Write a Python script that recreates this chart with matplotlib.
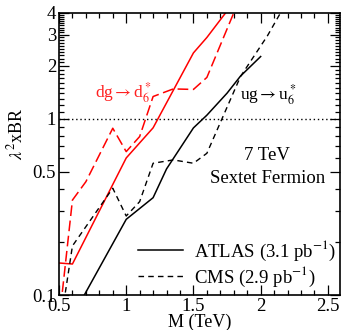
import numpy as np
import matplotlib
matplotlib.use("Agg")
import matplotlib.pyplot as plt
from matplotlib.ticker import FixedLocator, NullFormatter, MultipleLocator

plt.rcParams['font.family'] = ['Liberation Serif', 'DejaVu Serif']
plt.rcParams['mathtext.fontset'] = 'stix'

# ATLAS dg -> d6* (red solid)
atlas_d_m = [0.5, 0.6, 1.0, 1.2, 1.5, 1.6, 1.8, 2.0]
atlas_d_y = [0.152, 0.15, 0.60, 0.89, 2.37, 2.9, 4.6, 7.0]
# CMS dg -> d6* (red dashed)
cms_d_m = [0.5, 0.6, 0.7, 0.9, 1.0, 1.1, 1.2, 1.35, 1.5, 1.6, 1.8, 2.0]
cms_d_y = [0.07, 0.346, 0.44, 0.885, 0.652, 0.794, 1.34, 1.48, 1.47, 1.72, 4.0, 9.0]
# ATLAS ug -> u6* (black solid)
atlas_u_m = [0.5, 1.0, 1.2, 1.3, 1.5, 1.6, 1.75, 1.85, 2.0]
atlas_u_y = [0.055, 0.269, 0.357, 0.52, 0.889, 1.05, 1.4, 1.75, 2.26]
# CMS ug -> u6* (black dashed)
cms_u_m = [0.5, 0.6, 0.9, 1.0, 1.1, 1.2, 1.35, 1.5, 1.6, 1.85, 2.05, 2.2]
cms_u_y = [0.06, 0.19, 0.404, 0.281, 0.339, 0.56, 0.585, 0.56, 0.638, 1.74, 2.96, 4.7]

fig = plt.figure(figsize=(3.41, 3.30), dpi=100)
ax = fig.add_axes([0.173, 0.106, 0.824, 0.855])

ax.plot(atlas_d_m, atlas_d_y, color='#ff0000', lw=1.1)
ax.plot(cms_d_m, cms_d_y, color='#ff0000', lw=1.1, dashes=(7, 3))
ax.plot(atlas_u_m, atlas_u_y, color='black', lw=1.1, label='ATLAS (3.1 pb$^{-1}$)')
ax.plot(cms_u_m, cms_u_y, color='black', lw=1.0, dashes=(4, 3), label='CMS (2.9 pb$^{-1}$)')
ax.axhline(1.0, color='black', lw=1.0, ls=(0, (1, 2)))

ax.set_yscale('log')
ax.set_xlim(0.5, 2.59)
ax.set_ylim(0.1, 4.0)

ax.yaxis.set_major_locator(FixedLocator([0.1, 0.5, 1, 2, 3, 4]))
ax.set_yticklabels(['0.1', '0.5', '1', '2', '3', '4'])
minor = [0.2, 0.3, 0.4, 0.6, 0.7, 0.8, 0.9] + [round(1 + 0.1 * i, 1) for i in range(1, 31) if round(1 + 0.1 * i, 1) not in (2.0, 3.0, 4.0)]
ax.yaxis.set_minor_locator(FixedLocator(minor))
ax.yaxis.set_minor_formatter(NullFormatter())
ax.xaxis.set_major_locator(FixedLocator([0.5, 1.0, 1.5, 2.0, 2.5]))
ax.set_xticklabels(['0.5', '1', '1.5', '2', '2.5'])
ax.xaxis.set_minor_locator(MultipleLocator(0.1))

ax.tick_params(which='both', direction='in', top=True, right=True, labelsize=13.5, width=0.9)
ax.tick_params(which='major', length=7)
ax.tick_params(which='minor', length=3.5)
ax.tick_params(axis='x', pad=2)
ax.tick_params(axis='y', pad=2)
for s in ax.spines.values():
    s.set_linewidth(1.2)

ax.set_xlabel('M (TeV)', fontsize=13, labelpad=-1)
ax.set_ylabel(r'$\lambda^2$xBR', fontsize=13, labelpad=2)
ax.yaxis.set_label_coords(-0.115, 0.57)

ax.text(0.98, 1.42, r'dg$\rightarrow$d$_6^*$', color='#ff2020', fontsize=12.5, ha='center', va='center')
ax.text(1.85, 1.37, r'ug$\rightarrow$u$_6^*$', color='black', fontsize=12.5, ha='left', va='center')
ax.text(2.05, 0.62, '7 TeV', fontsize=13.5, ha='center', va='center')
ax.text(2.05, 0.46, 'Sextet Fermion', fontsize=13.5, ha='center', va='center')

leg = ax.legend(loc='lower right', bbox_to_anchor=(1.015, -0.005), frameon=False, fontsize=13.5,
                handlelength=2.4, handletextpad=0.6, labelspacing=0.1, borderaxespad=0.0,
                markerfirst=True)

fig.savefig('out.png', dpi=100)
